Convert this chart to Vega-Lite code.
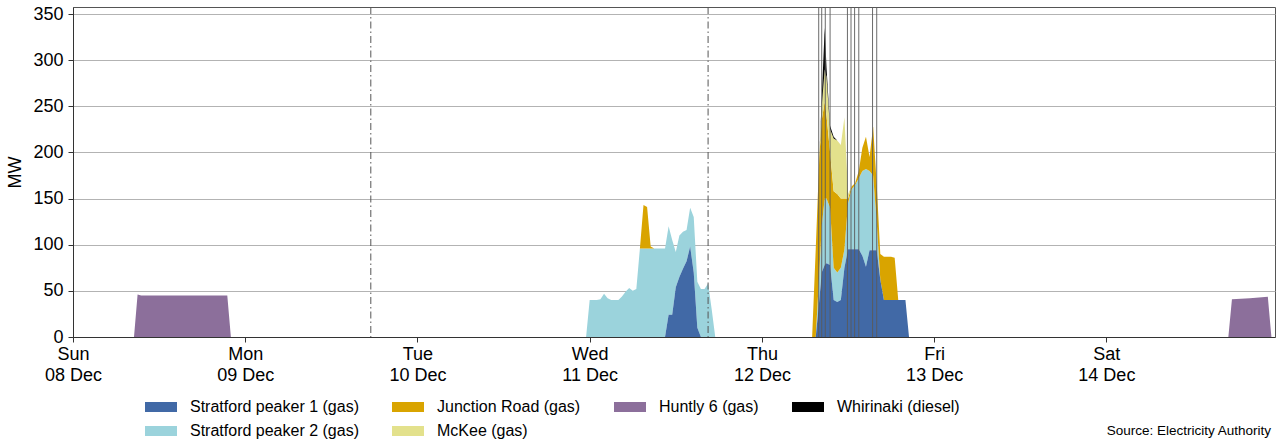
{
  "$schema": "https://vega.github.io/schema/vega-lite/v6.json",
  "width": 1202,
  "height": 330,
  "autosize": {"type": "none"},
  "padding": {"left": 73, "top": 7, "right": 2, "bottom": 106},
  "background": "white",
  "config": {
    "font": "Liberation Sans",
    "view": {"stroke": "#555555", "strokeWidth": 1},
    "axis": {
      "labelFont": "Liberation Sans", "labelFontSize": 18, "labelColor": "#000000",
      "titleFont": "Liberation Sans", "titleFontSize": 18, "titleFontWeight": "normal", "titleColor": "#000000",
      "domainColor": "#333333", "tickColor": "#333333", "tickSize": 5
    }
  },
  "title": {
    "text": "Source: Electricity Authority", "orient": "bottom", "anchor": "end", "frame": "group",
    "font": "Liberation Sans", "fontSize": 13.5, "fontWeight": "normal", "color": "#000000", "offset": -15, "dx": -4
  },
  "layer": [
    {
      "data": {"values": [
        {"t": "2024-12-08T08:30", "Huntly 6 (gas)": 0},
        {"t": "2024-12-08T09:00", "Huntly 6 (gas)": 46},
        {"t": "2024-12-08T09:30", "Huntly 6 (gas)": 45},
        {"t": "2024-12-08T21:30", "Huntly 6 (gas)": 45},
        {"t": "2024-12-08T22:00", "Huntly 6 (gas)": 0},
        {"t": "2024-12-10T23:30", "Stratford peaker 2 (gas)": 0},
        {"t": "2024-12-11T00:00", "Stratford peaker 2 (gas)": 40},
        {"t": "2024-12-11T00:30", "Stratford peaker 2 (gas)": 40},
        {"t": "2024-12-11T01:00", "Stratford peaker 2 (gas)": 40},
        {"t": "2024-12-11T01:30", "Stratford peaker 2 (gas)": 41},
        {"t": "2024-12-11T02:00", "Stratford peaker 2 (gas)": 47},
        {"t": "2024-12-11T02:30", "Stratford peaker 2 (gas)": 42},
        {"t": "2024-12-11T03:00", "Stratford peaker 2 (gas)": 40},
        {"t": "2024-12-11T03:30", "Stratford peaker 2 (gas)": 40},
        {"t": "2024-12-11T04:00", "Stratford peaker 2 (gas)": 40},
        {"t": "2024-12-11T04:30", "Stratford peaker 2 (gas)": 44},
        {"t": "2024-12-11T05:00", "Stratford peaker 2 (gas)": 49},
        {"t": "2024-12-11T05:30", "Stratford peaker 2 (gas)": 53},
        {"t": "2024-12-11T06:00", "Stratford peaker 2 (gas)": 50},
        {"t": "2024-12-11T06:30", "Stratford peaker 2 (gas)": 52},
        {"t": "2024-12-11T07:00", "Stratford peaker 2 (gas)": 96},
        {"t": "2024-12-11T07:30", "Stratford peaker 2 (gas)": 96, "Junction Road (gas)": 47},
        {"t": "2024-12-11T08:00", "Stratford peaker 2 (gas)": 96, "Junction Road (gas)": 45},
        {"t": "2024-12-11T08:30", "Stratford peaker 2 (gas)": 96, "Junction Road (gas)": 2},
        {"t": "2024-12-11T09:00", "Stratford peaker 2 (gas)": 96},
        {"t": "2024-12-11T09:30", "Stratford peaker 2 (gas)": 96},
        {"t": "2024-12-11T10:00", "Stratford peaker 2 (gas)": 96},
        {"t": "2024-12-11T10:30", "Stratford peaker 2 (gas)": 96},
        {"t": "2024-12-11T11:00", "Stratford peaker 1 (gas)": 24, "Stratford peaker 2 (gas)": 96},
        {"t": "2024-12-11T11:30", "Stratford peaker 1 (gas)": 24, "Stratford peaker 2 (gas)": 81},
        {"t": "2024-12-11T12:00", "Stratford peaker 1 (gas)": 54, "Stratford peaker 2 (gas)": 38},
        {"t": "2024-12-11T12:30", "Stratford peaker 1 (gas)": 65, "Stratford peaker 2 (gas)": 45},
        {"t": "2024-12-11T13:00", "Stratford peaker 1 (gas)": 74, "Stratford peaker 2 (gas)": 40},
        {"t": "2024-12-11T13:30", "Stratford peaker 1 (gas)": 82, "Stratford peaker 2 (gas)": 34},
        {"t": "2024-12-11T14:00", "Stratford peaker 1 (gas)": 98, "Stratford peaker 2 (gas)": 42},
        {"t": "2024-12-11T14:30", "Stratford peaker 1 (gas)": 70, "Stratford peaker 2 (gas)": 60},
        {"t": "2024-12-11T15:00", "Stratford peaker 1 (gas)": 10, "Stratford peaker 2 (gas)": 50},
        {"t": "2024-12-11T15:30", "Stratford peaker 2 (gas)": 52},
        {"t": "2024-12-11T16:00", "Stratford peaker 2 (gas)": 52},
        {"t": "2024-12-11T16:30", "Stratford peaker 2 (gas)": 58},
        {"t": "2024-12-11T17:00", "Stratford peaker 2 (gas)": 30},
        {"t": "2024-12-11T17:30", "Stratford peaker 2 (gas)": 0},
        {"t": "2024-12-12T07:00", "Junction Road (gas)": 0},
        {"t": "2024-12-12T07:30", "Junction Road (gas)": 95},
        {"t": "2024-12-12T08:00", "Stratford peaker 1 (gas)": 40, "Stratford peaker 2 (gas)": 30, "Junction Road (gas)": 125},
        {"t": "2024-12-12T08:20", "Stratford peaker 1 (gas)": 70, "Stratford peaker 2 (gas)": 50, "Junction Road (gas)": 115, "McKee (gas)": 15, "Whirinaki (diesel)": 8},
        {"t": "2024-12-12T08:45", "Stratford peaker 1 (gas)": 78, "Stratford peaker 2 (gas)": 72, "Junction Road (gas)": 105, "McKee (gas)": 35, "Whirinaki (diesel)": 45},
        {"t": "2024-12-12T09:00", "Stratford peaker 1 (gas)": 80, "Stratford peaker 2 (gas)": 70, "Junction Road (gas)": 90, "McKee (gas)": 42, "Whirinaki (diesel)": 10},
        {"t": "2024-12-12T09:30", "Stratford peaker 1 (gas)": 78, "Stratford peaker 2 (gas)": 62, "Junction Road (gas)": 60, "McKee (gas)": 25, "Whirinaki (diesel)": 4},
        {"t": "2024-12-12T10:00", "Stratford peaker 1 (gas)": 40, "Stratford peaker 2 (gas)": 35, "Junction Road (gas)": 83, "McKee (gas)": 57, "Whirinaki (diesel)": 2},
        {"t": "2024-12-12T10:30", "Stratford peaker 1 (gas)": 38, "Stratford peaker 2 (gas)": 32, "Junction Road (gas)": 85, "McKee (gas)": 58},
        {"t": "2024-12-12T11:00", "Stratford peaker 1 (gas)": 40, "Stratford peaker 2 (gas)": 35, "Junction Road (gas)": 75, "McKee (gas)": 58},
        {"t": "2024-12-12T11:30", "Stratford peaker 1 (gas)": 75, "Stratford peaker 2 (gas)": 20, "Junction Road (gas)": 55, "McKee (gas)": 88},
        {"t": "2024-12-12T12:00", "Stratford peaker 1 (gas)": 95, "Stratford peaker 2 (gas)": 50, "Junction Road (gas)": 5, "McKee (gas)": 5},
        {"t": "2024-12-12T12:30", "Stratford peaker 1 (gas)": 95, "Stratford peaker 2 (gas)": 65, "Junction Road (gas)": 3},
        {"t": "2024-12-12T13:00", "Stratford peaker 1 (gas)": 95, "Stratford peaker 2 (gas)": 70, "Junction Road (gas)": 2},
        {"t": "2024-12-12T13:30", "Stratford peaker 1 (gas)": 95, "Stratford peaker 2 (gas)": 77, "Junction Road (gas)": 8},
        {"t": "2024-12-12T14:00", "Stratford peaker 1 (gas)": 88, "Stratford peaker 2 (gas)": 92, "Junction Road (gas)": 25},
        {"t": "2024-12-12T14:30", "Stratford peaker 1 (gas)": 76, "Stratford peaker 2 (gas)": 106, "Junction Road (gas)": 35},
        {"t": "2024-12-12T15:00", "Stratford peaker 1 (gas)": 94, "Stratford peaker 2 (gas)": 86, "Junction Road (gas)": 15},
        {"t": "2024-12-12T15:30", "Stratford peaker 1 (gas)": 94, "Stratford peaker 2 (gas)": 81, "Junction Road (gas)": 53},
        {"t": "2024-12-12T16:00", "Stratford peaker 1 (gas)": 94, "Stratford peaker 2 (gas)": 31, "Junction Road (gas)": 40},
        {"t": "2024-12-12T16:30", "Stratford peaker 1 (gas)": 62, "Junction Road (gas)": 28},
        {"t": "2024-12-12T17:00", "Stratford peaker 1 (gas)": 40, "Junction Road (gas)": 47},
        {"t": "2024-12-12T17:30", "Stratford peaker 1 (gas)": 40, "Junction Road (gas)": 47},
        {"t": "2024-12-12T18:00", "Stratford peaker 1 (gas)": 40, "Junction Road (gas)": 47},
        {"t": "2024-12-12T18:30", "Stratford peaker 1 (gas)": 40, "Junction Road (gas)": 46},
        {"t": "2024-12-12T19:00", "Stratford peaker 1 (gas)": 40},
        {"t": "2024-12-12T19:30", "Stratford peaker 1 (gas)": 40},
        {"t": "2024-12-12T20:00", "Stratford peaker 1 (gas)": 40},
        {"t": "2024-12-12T20:30", "Stratford peaker 1 (gas)": 0},
        {"t": "2024-12-14T17:00", "Huntly 6 (gas)": 0},
        {"t": "2024-12-14T17:30", "Huntly 6 (gas)": 41},
        {"t": "2024-12-14T20:00", "Huntly 6 (gas)": 42},
        {"t": "2024-12-14T22:30", "Huntly 6 (gas)": 43.5},
        {"t": "2024-12-14T23:00", "Huntly 6 (gas)": 0}
      ]},
      "transform": [
        {"fold": ["Stratford peaker 1 (gas)", "Stratford peaker 2 (gas)", "Junction Road (gas)", "McKee (gas)", "Huntly 6 (gas)", "Whirinaki (diesel)"], "as": ["plant", "mw"]},
        {"filter": "isValid(datum.mw)"},
        {"calculate": "indexof(['Stratford peaker 1 (gas)', 'Stratford peaker 2 (gas)', 'Junction Road (gas)', 'McKee (gas)', 'Huntly 6 (gas)', 'Whirinaki (diesel)'], datum.plant)", "as": "ord"},
        {"impute": "mw", "key": "t", "groupby": ["plant", "ord"], "value": 0}
      ],
      "mark": {"type": "area", "interpolate": "linear"},
      "encoding": {
        "x": {
          "field": "t", "type": "temporal",
          "scale": {"domain": [{"year": 2024, "month": 12, "date": 8, "hours": 0}, {"year": 2024, "month": 12, "date": 14, "hours": 23, "minutes": 30}]},
          "axis": {
            "title": null, "grid": false,
            "tickCount": {"interval": "day", "step": 1},
            "labelExpr": "[timeFormat(datum.value, '%a'), timeFormat(datum.value, '%d %b')]",
            "labelLineHeight": 21, "labelFlush": false, "labelPadding": 3, "labelAlign": "center"
          }
        },
        "y": {
          "field": "mw", "type": "quantitative", "stack": "zero",
          "scale": {"domain": [0, 357.6], "nice": false},
          "axis": {
            "title": "MW", "values": [0, 50, 100, 150, 200, 250, 300, 350],
            "grid": true, "gridColor": "#b3b3b3", "gridWidth": 1,
            "labelPadding": 5, "titlePadding": 8
          }
        },
        "color": {
          "field": "plant", "type": "nominal",
          "scale": {
            "domain": ["Stratford peaker 1 (gas)", "Junction Road (gas)", "Huntly 6 (gas)", "Whirinaki (diesel)", "Stratford peaker 2 (gas)", "McKee (gas)"],
            "range": ["#4169a6", "#d9a400", "#8c6f9b", "#000000", "#9bd3dc", "#e3e18c"]
          },
          "legend": {
            "title": null, "orient": "none", "legendX": 80, "legendY": 392,
            "direction": "horizontal", "columns": 4,
            "symbolType": "M-2,-0.625H2V0.625H-2Z", "symbolSize": 256, "symbolStrokeWidth": 0, "symbolOpacity": 1,
            "labelFont": "Liberation Sans", "labelFontSize": 16, "labelColor": "#000000", "labelLimit": 400,
            "labelOffset": 21, "columnPadding": 33, "rowPadding": 8, "padding": 0
          }
        },
        "order": {"field": "ord", "type": "quantitative", "sort": "ascending"}
      }
    },
    {
      "data": {"values": [{"t": "2024-12-09T17:30"}, {"t": "2024-12-11T16:30"}]},
      "mark": {"type": "rule", "color": "#555555", "strokeWidth": 1, "strokeDash": [7, 3, 1.5, 3]},
      "encoding": {"x": {"field": "t", "type": "temporal"}}
    },
    {
      "data": {"values": [
        {"t": "2024-12-12T07:55"}, {"t": "2024-12-12T08:20"}, {"t": "2024-12-12T08:50"}, {"t": "2024-12-12T09:30"},
        {"t": "2024-12-12T11:55"}, {"t": "2024-12-12T12:25"}, {"t": "2024-12-12T12:55"}, {"t": "2024-12-12T13:30"},
        {"t": "2024-12-12T15:25"}, {"t": "2024-12-12T16:00"}
      ]},
      "mark": {"type": "rule", "color": "#5a5a5a", "strokeWidth": 0.9},
      "encoding": {"x": {"field": "t", "type": "temporal"}}
    }
  ]
}
